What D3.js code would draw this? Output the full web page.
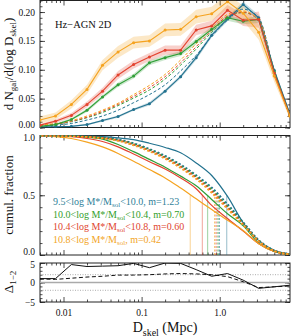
<!DOCTYPE html>
<html>
<head>
<meta charset="utf-8">
<script src="https://cdn.jsdelivr.net/npm/d3@7"></script>
<style>
body { margin: 0; background: #fff; }
text { font-family: "Liberation Serif", "DejaVu Serif", serif; }
</style>
</head>
<body>
<div id="chart"></div>
<script>
// bin centres (Mpc)
var dskel = [0.005, 0.0079, 0.0126, 0.02, 0.0316, 0.05, 0.079, 0.126, 0.2, 0.316, 0.5, 0.79, 1.26, 2.0, 3.16, 5.0, 7.9];

// top panel: dN/dlogD
var teal   = [0.001,0.001,0.002,0.005,0.012,0.019,0.031,0.041,0.063,0.088,0.121,0.160,0.188,0.213,0.190,0.099,0.024];
var green  = [0.002,0.005,0.014,0.030,0.053,0.074,0.089,0.112,0.121,0.128,0.149,0.170,0.190,0.184,0.187,0.096,0.021];
var red    = [0.004,0.011,0.021,0.040,0.063,0.091,0.109,0.122,0.134,0.134,0.169,0.176,0.203,0.186,0.187,0.094,0.021];
var orange = [0.013,0.020,0.040,0.066,0.108,0.131,0.147,0.150,0.169,0.170,0.192,0.197,0.218,0.198,0.165,0.089,0.020];

var errTeal   = [0.001,0.001,0.001,0.001,0.002,0.002,0.002,0.003,0.003,0.003,0.004,0.004,0.004,0.005,0.005,0.004,0.003];
var errGreen  = [0.001,0.002,0.002,0.003,0.003,0.004,0.004,0.004,0.004,0.004,0.005,0.005,0.005,0.005,0.006,0.005,0.003];
var errRed    = [0.002,0.003,0.004,0.005,0.006,0.007,0.007,0.007,0.008,0.008,0.009,0.009,0.009,0.010,0.014,0.008,0.004];
var errOrange = [0.006,0.006,0.007,0.008,0.009,0.010,0.010,0.010,0.011,0.011,0.012,0.012,0.013,0.013,0.013,0.010,0.005];

// dashed (random) curves, top panel
var rndTeal   = [0.002,0.004,0.007,0.013,0.020,0.030,0.043,0.057,0.074,0.098,0.125,0.158,0.186,0.205,0.190,0.099,0.023];
var rndGreen  = [0.003,0.006,0.010,0.017,0.026,0.038,0.051,0.065,0.084,0.108,0.136,0.165,0.191,0.199,0.187,0.097,0.021];
var rndRed    = [0.003,0.006,0.011,0.018,0.028,0.040,0.054,0.069,0.088,0.112,0.140,0.168,0.193,0.200,0.186,0.096,0.021];
var rndOrange = [0.004,0.007,0.012,0.020,0.030,0.042,0.057,0.073,0.092,0.117,0.145,0.172,0.196,0.202,0.185,0.095,0.021];

// middle panel: cumulative fraction
var cumTeal   = [1.0,1.0,0.999,0.997,0.99,0.98,0.965,0.935,0.90,0.855,0.77,0.665,0.49,0.27,0.12,0.04,0.01];
var cumGreen  = [1.0,0.999,0.995,0.985,0.97,0.925,0.865,0.80,0.735,0.66,0.58,0.465,0.345,0.245,0.10,0.03,0.005];
var cumRed    = [1.0,0.998,0.99,0.975,0.95,0.905,0.845,0.78,0.72,0.645,0.555,0.415,0.305,0.20,0.095,0.03,0.005];
var cumOrange = [1.0,0.99,0.975,0.945,0.905,0.85,0.785,0.715,0.645,0.56,0.47,0.38,0.29,0.205,0.095,0.03,0.005];

var dcTeal   = [1.0,0.999,0.997,0.992,0.984,0.966,0.935,0.888,0.83,0.757,0.668,0.565,0.425,0.275,0.125,0.037,0.005];
var dcGreen  = [1.0,0.999,0.996,0.991,0.981,0.962,0.929,0.88,0.82,0.746,0.656,0.548,0.408,0.265,0.12,0.035,0.005];
var dcRed    = [1.0,0.999,0.996,0.99,0.979,0.959,0.924,0.874,0.813,0.738,0.647,0.535,0.396,0.257,0.117,0.034,0.005];
var dcOrange = [1.0,0.998,0.995,0.988,0.976,0.955,0.918,0.867,0.805,0.728,0.636,0.52,0.385,0.25,0.114,0.033,0.005];

var medians    = [1.23, 0.70, 0.60, 0.42];
var rndMedians = [0.99, 0.95, 0.90, 0.86];

// bottom panel
var deltaSolid  = [1.0,1.0,4.6,4.1,4.2,4.3,4.9,3.8,5.0,4.9,3.3,1.6,2.3,0.6,-1.5,-1.1,-0.7];
var deltaDashed = [0.9,0.8,1.1,1.4,1.6,1.9,1.9,2.0,2.2,2.3,2.2,2.0,1.5,0.2,-1.3,-1.1,-0.9];

var colors = ["#22728f", "#2f9e36", "#e3432f", "#f5a320"];
var legendColors = ["#2f7f99", "#33a02c", "#e0452f", "#f2a51f"];
var legendText = [
  ["9.5<log M*/M", "sol", "<10.0, m=1.23"],
  ["10.0<log M*/M", "sol", "<10.4, m=0.70"],
  ["10.4<log M*/M", "sol", "<10.8, m=0.60"],
  ["10.8<log M*/M", "sol", ", m=0.42"]
];

var W = 291, H = 336, left = 40, right = 290;

var svg = d3.select("#chart").append("svg")
  .attr("width", W).attr("height", H);

var x = d3.scaleLog().domain([0.005, 7.95]).range([left, right]);
var yTop = d3.scaleLinear().domain([0, 0.22]).range([127.5, 0.5]);
var yMid = d3.scaleLinear().domain([0, 1]).range([255, 135.5]);
var yBot = d3.scaleLinear().domain([-5, 5]).range([302, 263]);

var xMajor = [0.01, 0.1, 1];
var xMinor = x.ticks().filter(function(t) { return xMajor.indexOf(t) < 0; });

function frame(y, yMaj, yMin, yFmt, xLabels, id, nudge) {
  var r = y.range(), dom = y.domain();
  var g = svg.append("g");
  svg.append("clipPath").attr("id", id).append("rect")
    .attr("x", left).attr("y", r[1]).attr("width", right - left).attr("height", r[0] - r[1]);

  function ax(gen, pos, vals, size, fmt, pad) {
    var a = gen.tickValues(vals).tickSize(-size).tickSizeOuter(0).tickPadding(pad || 4)
      .tickFormat(fmt || "");
    var el = g.append("g").attr("transform", pos).call(a);
    el.select(".domain").remove();
    el.selectAll("line").attr("stroke", "#222").attr("stroke-width", 0.8);
    el.selectAll("text").attr("font-family", "Liberation Serif, serif").attr("font-size", 9.5).attr("fill", "#111");
    return el;
  }
  ax(d3.axisBottom(x), "translate(0," + r[0] + ")", xMajor, 5,
     xLabels ? function(d) { return d === 1 ? "1.0" : String(d); } : null, 7);
  ax(d3.axisBottom(x), "translate(0," + r[0] + ")", xMinor, 2.5);
  ax(d3.axisTop(x), "translate(0," + r[1] + ")", xMajor, 5);
  ax(d3.axisTop(x), "translate(0," + r[1] + ")", xMinor, 2.5);
  var yl = ax(d3.axisLeft(y), "translate(" + left + ",0)", yMaj, 5, yFmt, 5);
  ax(d3.axisLeft(y), "translate(" + left + ",0)", yMin, 2.5);
  ax(d3.axisRight(y), "translate(" + right + ",0)", yMaj, 5);
  ax(d3.axisRight(y), "translate(" + right + ",0)", yMin, 2.5);

  // keep the end labels of stacked panels apart
  yl.selectAll("text").attr("dy", function(d) {
    if (d === dom[0] && nudge[0]) return "-0.05em";
    if (d === dom[1] && nudge[1]) return "0.5em";
    return "0.32em";
  });

  g.append("rect").attr("x", left).attr("y", r[1])
    .attr("width", right - left).attr("height", r[0] - r[1])
    .attr("fill", "none").attr("stroke", "#222").attr("stroke-width", 1);
  return g;
}

function addSub(sel, parts, subSize) {
  parts.forEach(function(p, i) {
    var t = sel.append("tspan").text(p);
    if (i % 2 === 1) t.attr("font-size", subSize).attr("dy", subSize * 0.35);
    else if (i > 0) t.attr("dy", -subSize * 0.35);
  });
}

// ---------- top panel ----------
frame(yTop, [0, 0.05, 0.1, 0.15, 0.2], d3.range(0, 0.221, 0.01).map(function(v) { return +v.toFixed(2); }),
  function(d) { return d.toFixed(2); }, false, "clipTop", [true, false]);

var gTop = svg.append("g").attr("clip-path", "url(#clipTop)");
var series = [teal, green, red, orange];
var errs = [errTeal, errGreen, errRed, errOrange];
var rnds = [rndTeal, rndGreen, rndRed, rndOrange];

var band = d3.area()
  .x(function(d) { return x(d.x); })
  .y0(function(d) { return yTop(d.v - d.e); })
  .y1(function(d) { return yTop(d.v + d.e); });
var lineTop = d3.line().x(function(d) { return x(d.x); }).y(function(d) { return yTop(d.v); });

series.forEach(function(s, k) {
  var pts = s.map(function(v, i) { return {x: dskel[i], v: v, e: errs[k][i]}; });
  gTop.append("path").datum(pts).attr("d", band)
    .attr("fill", colors[k]).attr("fill-opacity", 0.25);
});
rnds.forEach(function(s, k) {
  var pts = s.map(function(v, i) { return {x: dskel[i], v: v}; });
  gTop.append("path").datum(pts).attr("d", lineTop.curve(d3.curveMonotoneX))
    .attr("fill", "none").attr("stroke", colors[k]).attr("stroke-width", 1)
    .attr("stroke-dasharray", "3,2");
});
lineTop.curve(d3.curveLinear);
series.forEach(function(s, k) {
  var pts = s.map(function(v, i) { return {x: dskel[i], v: v}; });
  gTop.append("path").datum(pts).attr("d", lineTop)
    .attr("fill", "none").attr("stroke", colors[k]).attr("stroke-width", 1.1);
  gTop.selectAll(null).data(pts).enter().append("circle")
    .attr("cx", function(d) { return x(d.x); })
    .attr("cy", function(d) { return yTop(d.v); })
    .attr("r", 1.5).attr("fill", colors[k]);
});

svg.append("text").attr("x", 55).attr("y", 27.5).attr("font-size", 10.5).attr("fill", "#111")
  .text("Hz\u2212AGN 2D");

// ---------- middle panel ----------
frame(yMid, [0, 0.5, 1], d3.range(0, 1.01, 0.1).map(function(v) { return +v.toFixed(1); }),
  function(d) { return d.toFixed(1); }, false, "clipMid", [true, true]);
var gMid = svg.append("g").attr("clip-path", "url(#clipMid)");
var cums = [cumTeal, cumGreen, cumRed, cumOrange];
var dcs = [dcTeal, dcGreen, dcRed, dcOrange];
var lineMid = d3.line().x(function(d) { return x(d.x); }).y(function(d) { return yMid(d.v); })
  .curve(d3.curveMonotoneX);

medians.forEach(function(m, k) {
  gMid.append("line").attr("x1", x(m)).attr("x2", x(m))
    .attr("y1", yMid(0)).attr("y2", yMid(0.5))
    .attr("stroke", colors[k]).attr("stroke-opacity", 0.4).attr("stroke-width", 1.2);
});
rndMedians.forEach(function(m, k) {
  gMid.append("line").attr("x1", x(m)).attr("x2", x(m))
    .attr("y1", yMid(0)).attr("y2", yMid(0.5))
    .attr("stroke", colors[k]).attr("stroke-opacity", 0.6).attr("stroke-width", 1.2)
    .attr("stroke-dasharray", "2,1.5");
});
cums.forEach(function(s, k) {
  var pts = s.map(function(v, i) { return {x: dskel[i], v: v}; });
  gMid.append("path").datum(pts).attr("d", lineMid)
    .attr("fill", "none").attr("stroke", colors[k]).attr("stroke-width", 1.2);
});
dcs.forEach(function(s, k) {
  var pts = s.map(function(v, i) { return {x: dskel[i], v: v}; });
  gMid.append("path").datum(pts).attr("d", lineMid)
    .attr("fill", "none").attr("stroke", colors[k]).attr("stroke-width", 1.8)
    .attr("stroke-dasharray", "2,2").attr("stroke-dashoffset", k * 1);
});

legendText.forEach(function(p, k) {
  var t = svg.append("text").attr("x", 53).attr("y", 205 + k * 12.5)
    .attr("font-size", 10).attr("fill", legendColors[k]);
  addSub(t, p, 7);
});

// ---------- bottom panel ----------
frame(yBot, [-5, 0, 5], d3.range(-5, 6, 1),
  function(d) { return d < 0 ? "\u2212" + Math.abs(d) : String(d); }, true, "clipBot", [false, true]);
var gBot = svg.append("g").attr("clip-path", "url(#clipBot)");
gBot.append("line").attr("x1", left).attr("x2", right)
  .attr("y1", yBot(0)).attr("y2", yBot(0)).attr("stroke", "#aaa").attr("stroke-width", 1.3);
[-2, 2].forEach(function(v) {
  gBot.append("line").attr("x1", left).attr("x2", right)
    .attr("y1", yBot(v)).attr("y2", yBot(v)).attr("stroke", "#888").attr("stroke-width", 0.7)
    .attr("stroke-dasharray", "1,1.5");
});
var lineBot = d3.line().x(function(d) { return x(d.x); }).y(function(d) { return yBot(d.v); });
gBot.append("path").datum(deltaSolid.map(function(v, i) { return {x: dskel[i], v: v}; }))
  .attr("d", lineBot).attr("fill", "none").attr("stroke", "#111").attr("stroke-width", 1);
gBot.append("path").datum(deltaDashed.map(function(v, i) { return {x: dskel[i], v: v}; }))
  .attr("d", lineBot).attr("fill", "none").attr("stroke", "#111").attr("stroke-width", 1)
  .attr("stroke-dasharray", "4,2.5");

// ---------- axis titles ----------
var t1 = svg.append("text").attr("transform", "translate(13,64) rotate(-90)")
  .attr("text-anchor", "middle").attr("font-size", 13).attr("fill", "#111");
addSub(t1, ["d N", "gal", "/d(log D", "skel", ")"], 9);
svg.append("text").attr("transform", "translate(13,195) rotate(-90)")
  .attr("text-anchor", "middle").attr("font-size", 13).attr("fill", "#111")
  .text("cumul. fraction");
var t3 = svg.append("text").attr("transform", "translate(13,282) rotate(-90)")
  .attr("text-anchor", "middle").attr("font-size", 13).attr("fill", "#111");
addSub(t3, ["\u0394", "1\u22122"], 9);
var t4 = svg.append("text").attr("x", 165).attr("y", 332)
  .attr("text-anchor", "middle").attr("font-size", 14).attr("fill", "#111");
addSub(t4, ["D", "skel", " (Mpc)"], 10);
</script>
</body>
</html>
